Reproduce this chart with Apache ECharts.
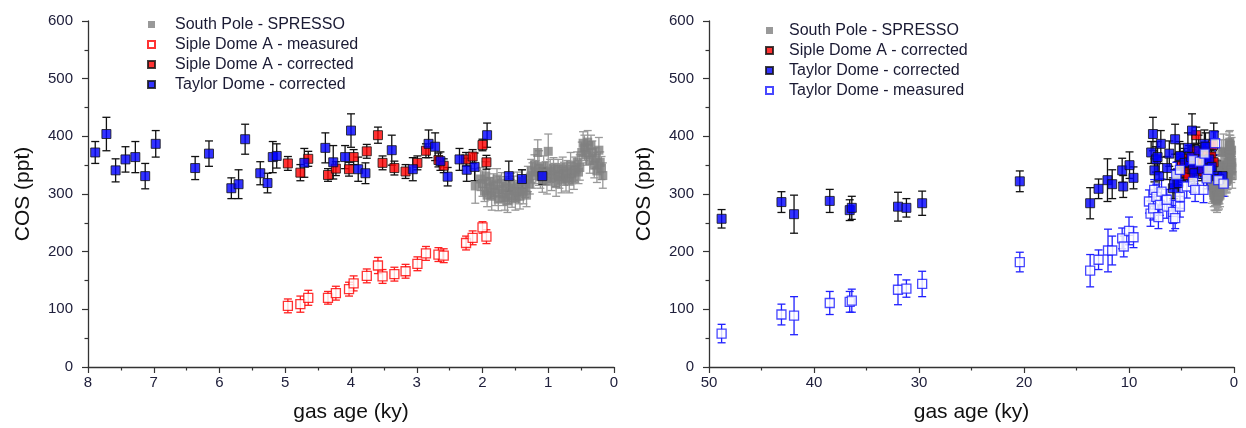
<!DOCTYPE html>
<html>
<head>
<meta charset="utf-8">
<script src="https://cdn.jsdelivr.net/npm/echarts/dist/echarts.min.js"></script>
<style>
  html, body { margin: 0; padding: 0; background: #fff; }
  #chart { width: 1246px; height: 428px; }
</style>
</head>
<body>
<div id="chart"></div>
<script>
// South Pole - SPRESSO firn air
const spAge = [2.11, 2.03, 2.00, 1.97, 1.95, 1.93, 1.90, 1.88, 1.86, 1.83, 1.81, 1.78, 1.76, 1.74, 1.71, 1.69, 1.66, 1.64, 1.62, 1.59, 1.57, 1.55, 1.52, 1.50, 1.47, 1.45, 1.43, 1.40, 1.38, 1.35, 1.33, 1.31, 1.28, 1.26, 1.24, 1.21, 1.19, 1.16, 1.14, 1.12, 1.09, 1.07, 1.04, 1.02, 1.00, 0.97, 0.95, 0.92, 0.90, 0.88, 0.85, 0.83, 0.80, 0.78, 0.76, 0.73, 0.71, 0.68, 0.66, 0.64, 0.61, 0.59, 0.56, 0.54, 0.52, 0.49, 0.47, 0.45, 0.42, 0.40, 0.37, 0.35, 0.33, 0.30, 0.28, 0.26, 0.23, 0.21, 0.19, 0.17];
const spCos = [314, 326, 318, 305, 331, 298, 322, 310, 296, 315, 302, 326, 291, 308, 319, 300, 294, 312, 288, 305, 318, 297, 309, 292, 314, 303, 296, 322, 305, 312, 298, 326, 318, 340, 332, 350, 338, 372, 345, 330, 325, 348, 336, 322, 374, 340, 328, 345, 333, 318, 342, 330, 324, 346, 335, 327, 340, 322, 350, 336, 328, 342, 355, 338, 346, 372, 388, 380, 368, 390, 358, 384, 372, 350, 362, 340, 376, 355, 345, 332];
const spErr = [30, 20, 22, 18, 25, 20, 22, 18, 24, 20, 22, 18, 20, 22, 18, 20, 22, 18, 20, 22, 18, 20, 22, 20, 24, 20, 22, 20, 22, 18, 20, 22, 18, 20, 22, 18, 20, 22, 30, 20, 22, 18, 20, 22, 30, 20, 22, 18, 20, 22, 18, 20, 22, 18, 20, 22, 18, 20, 22, 18, 20, 22, 18, 20, 22, 18, 20, 22, 18, 20, 22, 18, 20, 22, 18, 20, 22, 18, 20, 22];

// Siple Dome A
const sdAge = [4.96, 4.77, 4.65, 4.35, 4.23, 4.03, 3.96, 3.76, 3.59, 3.52, 3.34, 3.17, 2.99, 2.86, 2.67, 2.59, 2.25, 2.15, 2.00, 1.94];
const sdMeasured = [106, 109, 120, 120, 128, 135, 145, 158, 176, 157, 161, 166, 179, 197, 195, 193, 215, 224, 242, 226];
const sdCorrected = [353, 337, 361, 333, 344, 343, 364, 374, 402, 354, 345, 339, 354, 375, 359, 349, 360, 365, 385, 355];
const sdErr = [12, 14, 13, 11, 12, 12, 13, 12, 14, 12, 12, 12, 12, 12, 12, 12, 12, 12, 10, 12];

// Taylor Dome corrected, last 8 ky
const tdAge = [7.89, 7.72, 7.58, 7.43, 7.28, 7.13, 6.97, 6.37, 6.16, 5.82, 5.71, 5.61, 5.38, 5.27, 5.19, 5.13, 4.71, 4.39, 4.27, 4.09, 4.00, 3.89, 3.78, 3.38, 3.06, 2.82, 2.72, 2.64, 2.53, 2.35, 2.24, 2.12, 1.93, 1.60, 1.40, 1.09];
const tdCos = [372, 404, 341, 360, 364, 331, 387, 345, 370, 310, 317, 395, 336, 319, 364, 366, 354, 380, 355, 364, 410, 343, 336, 376, 343, 387, 382, 357, 330, 360, 342, 347, 402, 331, 326, 331];
const tdErr = [19, 29, 20, 22, 27, 22, 23, 20, 22, 18, 25, 26, 20, 17, 27, 21, 25, 26, 29, 20, 29, 21, 18, 26, 20, 24, 24, 16, 16, 19, 20, 24, 21, 26, 16, 14];

// Taylor Dome corrected, older than 8 ky
const tdOldAge = [48.8, 43.1, 41.9, 38.5, 36.6, 36.4, 32.0, 31.2, 29.7, 20.4, 13.7, 12.9, 12.05, 11.6, 10.65, 10.55, 9.95, 9.57];
const tdOldCos = [257, 286, 265, 288, 272, 276, 278, 276, 284, 322, 284, 309, 324, 317, 341, 313, 350, 328];
const tdOldErr = [16, 18, 33, 20, 18, 20, 25, 16, 21, 18, 27, 17, 37, 25, 21, 19, 23, 19];

// Taylor Dome measured
const tmAge = [48.8, 43.1, 41.9, 38.5, 36.6, 36.4, 32.0, 31.2, 29.7, 20.4, 13.7, 12.9, 12.0, 11.6, 10.65, 10.5, 10.0, 9.57, 8.1, 7.95, 7.7, 7.6, 7.4, 7.2, 7.06, 6.9, 6.4, 6.4, 5.8, 5.8, 5.6, 5.5, 5.15, 5.15, 5.15, 4.5, 3.9, 3.9, 3.7, 3.25, 2.9, 2.8, 2.6, 2.45, 1.8, 1.5, 1.0];
const tmCos = [58, 91, 89, 111, 113, 115, 134, 136, 144, 182, 167, 186, 202, 202, 223, 209, 236, 225, 287, 266, 275, 307, 295, 260, 281, 304, 278, 290, 258, 269, 258, 333, 295, 278, 342, 313, 321, 359, 307, 356, 307, 370, 327, 342, 388, 324, 318];
const tmErr = [16, 18, 33, 20, 18, 20, 26, 15, 22, 17, 28, 17, 37, 25, 18, 18, 24, 18, 20, 22, 20, 18, 22, 20, 18, 22, 20, 18, 22, 20, 18, 22, 20, 18, 22, 20, 18, 22, 20, 18, 22, 20, 18, 22, 20, 18, 22];

const NAME_SP = 'South Pole - SPRESSO';
const NAME_SM = 'Siple Dome A - measured';
const NAME_SC = 'Siple Dome A - corrected';
const NAME_TC = 'Taylor Dome - corrected';
const NAME_TM = 'Taylor Dome - measured';

const labelColor = '#20203c';
const axisColor = '#333';

function points(age, cos) {
  return age.map((a, i) => [a, cos[i]]);
}
function bars(age, cos, err) {
  return age.map((a, i) => [a, cos[i] - err[i], cos[i] + err[i]]);
}

function errSeries(name, data, color, idx) {
  return {
    type: 'custom',
    name: name + ' err',
    xAxisIndex: idx,
    yAxisIndex: idx,
    silent: true,
    data: data,
    encode: { x: 0, y: [1, 2] },
    renderItem: function (params, api) {
      const x = api.value(0);
      const lo = api.coord([x, api.value(1)]);
      const hi = api.coord([x, api.value(2)]);
      const c = 4;
      const st = { stroke: color, lineWidth: 1.3 };
      return {
        type: 'group',
        children: [
          { type: 'line', shape: { x1: lo[0], y1: lo[1], x2: hi[0], y2: hi[1] }, style: st },
          { type: 'line', shape: { x1: lo[0] - c, y1: lo[1], x2: lo[0] + c, y2: lo[1] }, style: st },
          { type: 'line', shape: { x1: hi[0] - c, y1: hi[1], x2: hi[0] + c, y2: hi[1] }, style: st }
        ]
      };
    }
  };
}

function dotSeries(name, data, style, idx) {
  return {
    type: 'scatter',
    name: name,
    xAxisIndex: idx,
    yAxisIndex: idx,
    symbol: 'rect',
    symbolSize: 9,
    data: data,
    itemStyle: style
  };
}

const greyStyle = { color: '#808080' };
const redOpen = { color: '#ffffff', borderColor: '#ff0000', borderWidth: 1.3 };
const redFill = { color: '#ff0000', borderColor: '#111', borderWidth: 1 };
const blueFill = { color: '#0000ff', borderColor: '#111', borderWidth: 1 };
const blueOpen = { color: '#ffffff', borderColor: '#1a1aff', borderWidth: 1.3 };

function yAxis(idx) {
  return {
    type: 'value',
    gridIndex: idx,
    min: 0,
    max: 600,
    interval: 100,
    name: 'COS (ppt)',
    nameLocation: 'middle',
    nameGap: 54,
    nameTextStyle: { fontFamily: 'Liberation Sans', fontSize: 21, color: '#111' },
    axisLine: { show: true, onZero: false, lineStyle: { color: axisColor, width: 1.3 } },
    axisTick: { show: true, length: 6, lineStyle: { color: axisColor, width: 1.2 } },
    minorTick: { show: true, splitNumber: 2, length: 3.5, lineStyle: { color: axisColor, width: 1.2 } },
    splitLine: { show: false },
    axisLabel: { margin: 15, fontFamily: 'Liberation Sans', fontSize: 15, color: labelColor }
  };
}

function xAxis(idx, max, interval) {
  return {
    type: 'value',
    gridIndex: idx,
    inverse: true,
    min: 0,
    max: max,
    interval: interval,
    name: 'gas age (ky)',
    nameLocation: 'middle',
    nameGap: 35,
    nameTextStyle: { fontFamily: 'Liberation Sans', fontSize: 21, color: '#111' },
    axisLine: { show: true, onZero: false, lineStyle: { color: axisColor, width: 1.3 } },
    axisTick: { show: true, length: 6, lineStyle: { color: axisColor, width: 1.2 } },
    minorTick: { show: true, splitNumber: 2, length: 3.5, lineStyle: { color: axisColor, width: 1.2 } },
    splitLine: { show: false },
    axisLabel: { margin: 8, fontFamily: 'Liberation Sans', fontSize: 15, color: labelColor }
  };
}

function legend(names, left, top, gap) {
  return {
    data: names,
    orient: 'vertical',
    left: left,
    top: top,
    icon: 'rect',
    itemWidth: 7,
    itemHeight: 7,
    itemGap: 3,
    selectedMode: false,
    padding: 0,
    textStyle: { fontFamily: 'Liberation Sans', fontSize: 16, color: '#1a1a33', lineHeight: 17, padding: [0, 0, 0, gap] }
  };
}

const chart = echarts.init(document.getElementById('chart'), null, { renderer: 'canvas' });

chart.setOption({
  animation: false,
  backgroundColor: '#fff',
  grid: [
    { left: 88, right: 632, top: 21, bottom: 61 },
    { left: 709, right: 12, top: 21, bottom: 61 }
  ],
  xAxis: [xAxis(0, 8, 1), xAxis(1, 50, 10)],
  yAxis: [yAxis(0), yAxis(1)],
  legend: [
    legend([NAME_SP, NAME_SM, NAME_SC, NAME_TC], 147, 16, 15),
    legend([NAME_SP, NAME_SC, NAME_TC, NAME_TM], 765, 22, 11)
  ],
  series: [
    // left panel
    errSeries(NAME_SP, bars(spAge, spCos, spErr), '#999', 0),
    dotSeries(NAME_SP, points(spAge, spCos), greyStyle, 0),
    errSeries(NAME_SM, bars(sdAge, sdMeasured, sdErr), '#ff2020', 0),
    dotSeries(NAME_SM, points(sdAge, sdMeasured), redOpen, 0),
    errSeries(NAME_SC, bars(sdAge, sdCorrected, sdErr), '#111', 0),
    dotSeries(NAME_SC, points(sdAge, sdCorrected), redFill, 0),
    errSeries(NAME_TC, bars(tdAge, tdCos, tdErr), '#111', 0),
    dotSeries(NAME_TC, points(tdAge, tdCos), blueFill, 0),
    // right panel
    errSeries(NAME_SP, bars(spAge, spCos, spErr), '#999', 1),
    dotSeries(NAME_SP, points(spAge, spCos), greyStyle, 1),
    errSeries(NAME_SC, bars(sdAge, sdCorrected, sdErr), '#111', 1),
    dotSeries(NAME_SC, points(sdAge, sdCorrected), redFill, 1),
    errSeries(NAME_TC, bars(tdOldAge.concat(tdAge), tdOldCos.concat(tdCos), tdOldErr.concat(tdErr)), '#111', 1),
    dotSeries(NAME_TC, points(tdOldAge.concat(tdAge), tdOldCos.concat(tdCos)), blueFill, 1),
    errSeries(NAME_TM, bars(tmAge, tmCos, tmErr), '#2020ff', 1),
    dotSeries(NAME_TM, points(tmAge, tmCos), blueOpen, 1)
  ]
});
</script>
</body>
</html>
